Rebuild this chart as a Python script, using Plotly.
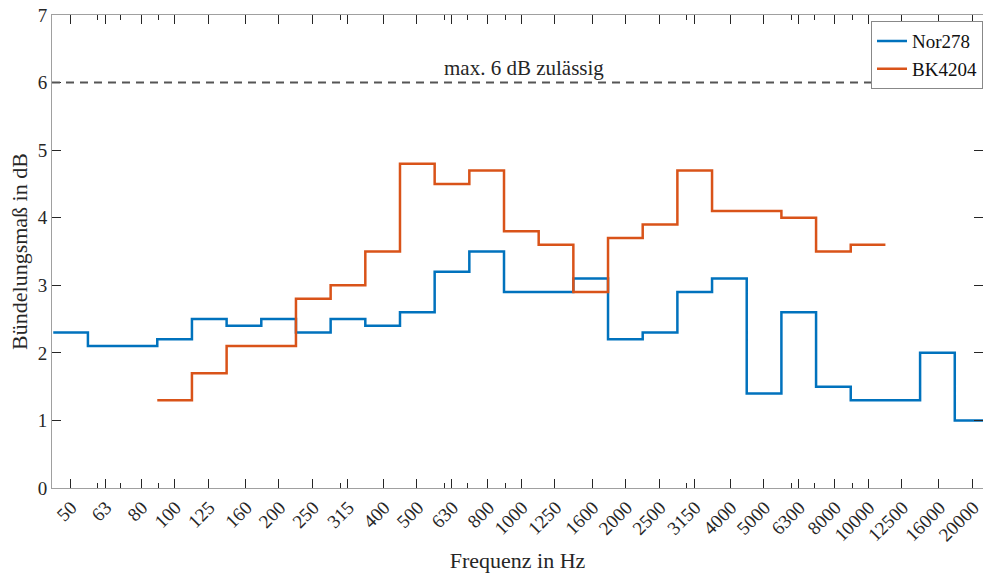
import numpy as np
import plotly.graph_objects as go

# Third-octave band centre frequencies (Hz)
bands = [50, 63, 80, 100, 125, 160, 200, 250, 315, 400, 500, 630, 800, 1000,
         1250, 1600, 2000, 2500, 3150, 4000, 5000, 6300, 8000, 10000, 12500,
         16000, 20000]
tick_labels = [str(b) for b in bands]

nor278 = [2.3, 2.1, 2.1, 2.2, 2.5, 2.4, 2.5, 2.3, 2.5, 2.4, 2.6, 3.2, 3.5, 2.9,
          2.9, 3.1, 2.2, 2.3, 2.9, 3.1, 1.4, 2.6, 1.5, 1.3, 1.3, 2.0, 1.0]
bk4204 = [None, None, None, 1.3, 1.7, 2.1, 2.1, 2.8, 3.0, 3.5, 4.8, 4.5, 4.7, 3.8,
          3.6, 2.9, 3.7, 3.9, 4.7, 4.1, 4.1, 4.0, 3.5, 3.6, None, None, None]

limit_value = 6
limit_text = "max. 6 dB zulässig"
minor_ticks = [60, 70, 90, 300, 600, 700, 900, 3000, 6000, 7000, 9000]

# band edges from exact third-octave centres
k = np.round(10 * np.log10(bands))
lower_edges = 10 ** ((k - 0.5) / 10)
upper_last = 10 ** ((k[-1] + 0.5) / 10)


def stairs(values):
    xs, ys = [], []
    for i, v in enumerate(values):
        if v is None:
            continue
        xs.append(lower_edges[i])
        ys.append(v)
    last = max(i for i, v in enumerate(values) if v is not None)
    up = lower_edges[last + 1] if last + 1 < len(bands) else upper_last
    xs.append(up)
    ys.append(values[last])
    return xs, ys


font = "Liberation Serif, Times New Roman, serif"
blue = "#0072BD"
orange = "#D95319"

fig = go.Figure()
x1, y1 = stairs(nor278)
x2, y2 = stairs(bk4204)
fig.add_trace(go.Scatter(x=x1, y=y1, mode="lines", line_shape="hv",
                         line=dict(color=blue, width=2.5), name="Nor278"))
fig.add_trace(go.Scatter(x=x2, y=y2, mode="lines", line_shape="hv",
                         line=dict(color=orange, width=2.5), name="BK4204"))

fig.add_shape(type="line", xref="paper", x0=0, x1=1, yref="y",
              y0=limit_value, y1=limit_value,
              line=dict(color="#555555", width=2, dash="8px,6px"))
fig.add_annotation(x=0.507, xref="paper", y=limit_value, yref="y",
                   text=limit_text, showarrow=False, yanchor="bottom",
                   yshift=1,
                   font=dict(family=font, size=21, color="#262626"))

axis_common = dict(showline=True, linecolor="#a0a0a0", linewidth=1,
                   mirror="ticks", ticks="inside", tickcolor="#262626",
                   ticklen=9, tickwidth=1, showgrid=False, zeroline=False,
                   automargin=False,
                   tickfont=dict(family=font, size=19, color="#262626"))

fig.update_xaxes(type="log", range=[np.log10(44.3), np.log10(21450)],
                 tickmode="array", tickvals=bands, ticktext=tick_labels,
                 tickangle=-45, ticklabelshift=1, ticklabeloverflow="allow",
                 minor=dict(tickmode="array", tickvals=minor_ticks,
                            ticks="inside", ticklen=5, tickcolor="#262626"),
                 title=dict(text="Frequenz in Hz", standoff=8,
                            font=dict(family=font, size=22, color="#262626")),
                 **axis_common)
fig.update_yaxes(range=[0, 7], tickmode="array", tickvals=list(range(8)),
                 title=dict(text="Bündelungsmaß in dB", standoff=4,
                            font=dict(family=font, size=22, color="#262626")),
                 **axis_common)

fig.update_layout(
    width=983, height=573,
    margin=dict(l=52, r=0, t=15, b=85, autoexpand=False),
    paper_bgcolor="white", plot_bgcolor="white",
    showlegend=True,
    legend=dict(x=1.0, xanchor="right", y=0.987, yanchor="top",
                bordercolor="#888888", borderwidth=1, bgcolor="white",
                font=dict(family=font, size=19, color="#111111"),
                tracegroupgap=0, itemwidth=30),
)

fig.write_html("out.html", config={"displayModeBar": False},
               post_script="document.body.style.margin='0';document.body.style.overflow='hidden';")
